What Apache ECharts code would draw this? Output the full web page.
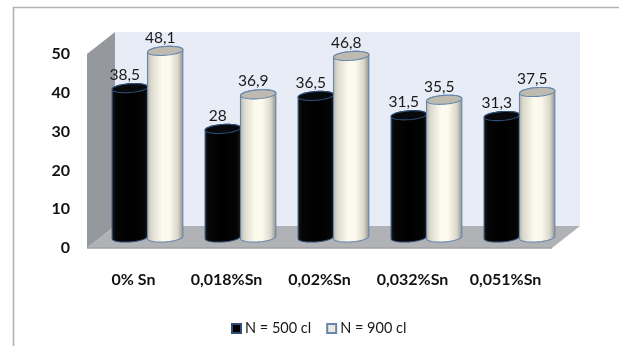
<!DOCTYPE html>
<html>
<head>
<meta charset="utf-8">
<style>
html, body { margin: 0; padding: 0; background: #fff; }
#chart { width: 619px; height: 346px; }
</style>
<script src="https://cdn.jsdelivr.net/npm/echarts@6/dist/echarts.min.js"></script>
</head>
<body>
<div id="chart"></div>
<script>
// Grain size by tin content, for two cooling rates
const categories = ['0% Sn', '0,018%Sn', '0,02%Sn', '0,032%Sn', '0,051%Sn'];
const n500 = [38.5, 28, 36.5, 31.5, 31.3];
const n900 = [48.1, 36.9, 46.8, 35.5, 37.5];
const seriesNames = ['N = 500 cl', 'N = 900 cl'];
const valueTicks = { min: 0, max: 50, interval: 10 };

const FONT = 'Lato, Carlito, sans-serif';
const DEPTH_X = 28, DEPTH_Y = 22;      // receding offset of the box
const MID_X = 14, MID_Y = -10.5;       // bars stand halfway into the box

function hGrad(stops) {
  return { type: 'linear', x: 0, y: 0, x2: 1, y2: 0,
    colorStops: stops.map(s => ({ offset: s[0], color: s[1] })) };
}

const looks = {
  black: {
    body: hGrad([[0, '#1a1a1c'], [0.12, '#050505'], [0.5, '#000'], [0.88, '#040404'], [1, '#161618']]),
    top: '#08090c',
    swatch: '#000000',
    edge: '#2f4d75'
  },
  cream: {
    body: hGrad([[0, '#b5b4aa'], [0.12, '#dcdace'], [0.42, '#fdfaee'], [0.62, '#fcf9ec'], [0.85, '#d8d6ca'], [1, '#8f8e86']]),
    top: '#bdbaaf',
    swatch: '#ece9da',
    edge: '#6686ad'
  }
};

// Cylinder with tilted elliptical caps, placed through the axis scales
function cylinder(look, side) {
  return function (params, api) {
    const cat = api.value(0), val = api.value(1);
    const band = api.size([1, 0])[0];
    const w = band * 0.38;
    const rx = w / 2, ry = 4.4, tilt = -0.07;
    const cx = api.coord([cat, 0])[0] + MID_X + side * w / 2;
    const yBase = api.coord([cat, 0])[1] + MID_Y;
    const yTop = api.coord([cat, val])[1] + MID_Y;
    const pt = (a, y) => [
      cx + rx * Math.cos(a),
      y + ry * Math.sin(a) + rx * Math.cos(a) * tilt
    ];
    const outline = [];
    for (let i = 0; i <= 24; i++) outline.push(pt(Math.PI * i / 24, yBase));
    for (let i = 0; i <= 24; i++) outline.push(pt(Math.PI + Math.PI * i / 24, yTop));
    const cap = [];
    for (let i = 0; i < 48; i++) cap.push(pt(2 * Math.PI * i / 48, yTop));
    const lineStyle = { stroke: look.edge, lineWidth: 1.1 };
    return {
      type: 'group',
      children: [
        { type: 'polygon', shape: { points: outline },
          style: Object.assign({ fill: look.body }, lineStyle) },
        { type: 'polygon', shape: { points: cap },
          style: Object.assign({ fill: look.top }, lineStyle) },
        { type: 'text', x: cx - 5, y: yTop - 13,
          style: {
            text: String(val).replace('.', ','),
            font: '15.5px ' + FONT, fill: '#1a1a1a',
            align: 'center', verticalAlign: 'middle'
          } }
      ]
    };
  };
}

// Back wall, side wall and floor of the box
function box(params) {
  const c = params.coordSys;
  const L = c.x, R = c.x + c.width, T = c.y, B = c.y + c.height;
  const poly = (pts, fill) => ({ type: 'polygon', shape: { points: pts }, style: { fill: fill } });
  return {
    type: 'group',
    silent: true,
    children: [
      poly([[L + DEPTH_X, T - DEPTH_Y], [R + DEPTH_X, T - DEPTH_Y], [R + DEPTH_X, B - DEPTH_Y], [L + DEPTH_X, B - DEPTH_Y]], '#e8ecf6'),
      poly([[L, T], [L + DEPTH_X, T - DEPTH_Y], [L + DEPTH_X, B - DEPTH_Y], [L, B]], '#95989c'),
      poly([[L, B], [L + DEPTH_X, B - DEPTH_Y], [R + DEPTH_X, B - DEPTH_Y], [R, B]], '#b1b2b5'),
      { type: 'line', shape: { x1: L, y1: B, x2: R, y2: B }, style: { stroke: '#a0a1a4', lineWidth: 1.5 } }
    ]
  };
}

const toRows = values => values.map((v, i) => [i, v]);

const chart = echarts.init(document.getElementById('chart'), null, { renderer: 'canvas' });
chart.setOption({
  animation: false,
  backgroundColor: '#fff',
  grid: { left: 87, top: 54, width: 465, height: 194 },
  xAxis: {
    type: 'category',
    data: categories,
    axisLine: { show: false },
    axisTick: { show: false },
    axisLabel: { margin: 24, fontFamily: FONT, fontWeight: 'bold', fontSize: 16, color: '#111', interval: 0 }
  },
  yAxis: {
    type: 'value',
    min: valueTicks.min, max: valueTicks.max, interval: valueTicks.interval,
    axisLine: { show: false },
    axisTick: { show: false },
    splitLine: { show: false },
    axisLabel: { margin: 17, padding: [6, 0, 0, 0], fontFamily: FONT, fontWeight: 'bold', fontSize: 16, color: '#111' }
  },
  legend: {
    left: 226, top: 316, itemWidth: 9, itemHeight: 9, itemGap: 15,
    icon: 'rect',
    textStyle: { fontFamily: FONT, fontSize: 14.5, color: '#1a1a1a', padding: [0, 0, 0, -1] },
    data: seriesNames
  },
  graphic: [{
    type: 'polyline',
    silent: true,
    shape: { points: [[13.5, 346], [13.5, 7.5], [619, 7.5]] },
    style: { stroke: '#b2b2b2', fill: null, lineWidth: 1.6 }
  }],
  series: [
    { type: 'custom', silent: true, legendHoverLink: false, renderItem: box, data: [[0, 0]], z: 1, tooltip: { show: false } },
    { type: 'custom', name: seriesNames[0], renderItem: cylinder(looks.black, -1), data: toRows(n500), z: 2,
      encode: { x: 0, y: 1 }, itemStyle: { color: looks.black.swatch, borderColor: looks.black.edge, borderWidth: 1 } },
    { type: 'custom', name: seriesNames[1], renderItem: cylinder(looks.cream, 1), data: toRows(n900), z: 3,
      encode: { x: 0, y: 1 }, itemStyle: { color: looks.cream.swatch, borderColor: looks.cream.edge, borderWidth: 1 } }
  ]
});
</script>
</body>
</html>
